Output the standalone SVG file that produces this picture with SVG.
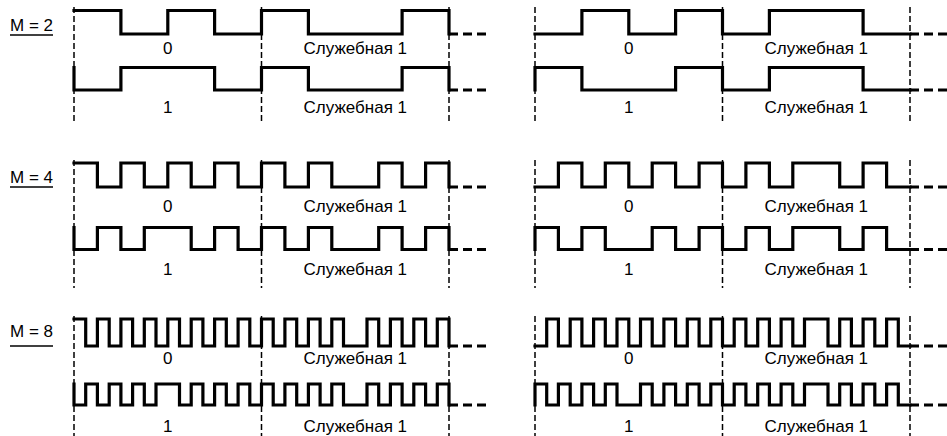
<svg xmlns="http://www.w3.org/2000/svg" width="947" height="436" viewBox="0 0 947 436">
<style>
.w{fill:none;stroke:#000;stroke-width:3.2;stroke-linejoin:miter;stroke-linecap:square}
.d{fill:none;stroke:#000;stroke-width:3.2;stroke-dasharray:9 5}
.v{fill:none;stroke:#000;stroke-width:1.5;stroke-dasharray:6 3}
.t{font-family:"Liberation Sans",Arial,sans-serif;font-size:17px;fill:#000;text-anchor:middle}
.m{font-family:"Liberation Sans",Arial,sans-serif;font-size:17px;fill:#000}
.u{stroke:#000;stroke-width:1.6}
</style>
<rect width="947" height="436" fill="#fff"/>
<g id="grid">
<path class="v" d="M74,7V123M261.5,7V123M449,7V123M535,7V123M722.5,7V123M910,7V123"/>
<path class="v" d="M74,160V288M261.5,160V288M449,160V288M535,160V288M722.5,160V288M910,160V288"/>
<path class="v" d="M74,316V436M261.5,316V436M449,316V436M535,316V436M722.5,316V436M910,316V436"/>
</g>
<g id="m2">
<text class="m" x="10" y="31">M = 2</text><line class="u" x1="10" y1="35" x2="53" y2="35"/>
<path class="w" d="M74,10.5H120.9V34H167.8V10.5H214.6V34H261.5V10.5H308.4V34H402.1V10.5H449V34"/>
<path class="w" d="M74,67.5V90H120.9V67.5H214.6V90H261.5V67.5H308.4V90H402.1V67.5H449V90"/>
<path class="w" d="M535,34H581.9V10.5H628.8V34H675.6V10.5H722.5V34H769.4V10.5H863.1V34H910"/>
<path class="w" d="M535,90V67.5H581.9V90H675.6V67.5H722.5V90H769.4V67.5H863.1V90H910"/>
<text class="t" x="167.8" y="53.5">0</text><text class="t" x="355.3" y="53.5">Служебная 1</text>
<text class="t" x="167.8" y="113">1</text><text class="t" x="355.3" y="113">Служебная 1</text>
<text class="t" x="628.8" y="53.5">0</text><text class="t" x="816.3" y="53.5">Служебная 1</text>
<text class="t" x="628.8" y="113">1</text><text class="t" x="816.3" y="113">Служебная 1</text>
</g>
<g id="m4">
<text class="m" x="10" y="183">M = 4</text><line class="u" x1="10" y1="187" x2="53" y2="187"/>
<path class="w" d="M74,163H97.4V187H120.9V163H144.3V187H167.8V163H191.2V187H214.6V163H238.1V187H261.5V163H284.9V187H308.4V163H331.8V187H378.7V163H402.1V187H425.6V163H449V187"/>
<path class="w" d="M74,227.5V249.5H97.4V227.5H120.9V249.5H144.3V227.5H191.2V249.5H214.6V227.5H238.1V249.5H261.5V227.5H284.9V249.5H308.4V227.5H331.8V249.5H378.7V227.5H402.1V249.5H425.6V227.5H449V249.5"/>
<path class="w" d="M535,187H558.4V163H581.9V187H605.3V163H628.8V187H652.2V163H675.6V187H699.1V163H722.5V187H745.9V163H769.4V187H792.8V163H839.7V187H863.1V163H886.6V187H910"/>
<path class="w" d="M535,249.5V227.5H558.4V249.5H581.9V227.5H605.3V249.5H652.2V227.5H675.6V249.5H699.1V227.5H722.5V249.5H745.9V227.5H769.4V249.5H792.8V227.5H839.7V249.5H863.1V227.5H886.6V249.5H910"/>
<text class="t" x="167.8" y="212">0</text><text class="t" x="355.3" y="212">Служебная 1</text>
<text class="t" x="167.8" y="275">1</text><text class="t" x="355.3" y="275">Служебная 1</text>
<text class="t" x="628.8" y="212">0</text><text class="t" x="816.3" y="212">Служебная 1</text>
<text class="t" x="628.8" y="275">1</text><text class="t" x="816.3" y="275">Служебная 1</text>
</g>
<g id="m8">
<text class="m" x="10" y="337">M = 8</text><line class="u" x1="10" y1="346" x2="53" y2="346"/>
<path class="w" d="M74,319H85.7V346H97.4V319H109.2V346H120.9V319H132.6V346H144.3V319H156V346H167.8V319H179.5V346H191.2V319H202.9V346H214.6V319H226.3V346H238.1V319H249.8V346H261.5V319H273.2V346H284.9V319H296.7V346H308.4V319H320.1V346H331.8V319H343.5V346H367V319H378.7V346H390.4V319H402.1V346H413.8V319H425.6V346H437.3V319H449V346"/>
<path class="w" d="M74,384V405H85.7V384H97.4V405H109.2V384H120.9V405H132.6V384H144.3V405H156V384H179.5V405H191.2V384H202.9V405H214.6V384H226.3V405H238.1V384H249.8V405H261.5V384H273.2V405H284.9V384H296.7V405H308.4V384H320.1V405H331.8V384H343.5V405H367V384H378.7V405H390.4V384H402.1V405H413.8V384H425.6V405H437.3V384H449V405"/>
<path class="w" d="M535,346H546.7V319H558.4V346H570.2V319H581.9V346H593.6V319H605.3V346H617V319H628.8V346H640.5V319H652.2V346H663.9V319H675.6V346H687.3V319H699.1V346H710.8V319H722.5V346H734.2V319H745.9V346H757.7V319H769.4V346H781.1V319H792.8V346H804.5V319H828V346H839.7V319H851.4V346H863.1V319H874.8V346H886.6V319H898.3V346H910"/>
<path class="w" d="M535,405V384H546.7V405H558.4V384H570.2V405H581.9V384H593.6V405H605.3V384H617V405H640.5V384H652.2V405H663.9V384H675.6V405H687.3V384H699.1V405H710.8V384H722.5V405H734.2V384H745.9V405H757.7V384H769.4V405H781.1V384H792.8V405H804.5V384H828V405H839.7V384H851.4V405H863.1V384H874.8V405H886.6V384H898.3V405H910"/>
<text class="t" x="167.8" y="364">0</text><text class="t" x="355.3" y="364">Служебная 1</text>
<text class="t" x="167.8" y="431.5">1</text><text class="t" x="355.3" y="431.5">Служебная 1</text>
<text class="t" x="628.8" y="364">0</text><text class="t" x="816.3" y="364">Служебная 1</text>
<text class="t" x="628.8" y="431.5">1</text><text class="t" x="816.3" y="431.5">Служебная 1</text>
</g>
<g id="connectors">
<path class="d" d="M449,34H487M449,90H487M449,187H487M449,249.5H487M449,346H487M449,405H487"/>
<path class="d" d="M910,34H947M910,90H947M910,187H947M910,249.5H947M910,346H947M910,405H947"/>
</g>
</svg>
